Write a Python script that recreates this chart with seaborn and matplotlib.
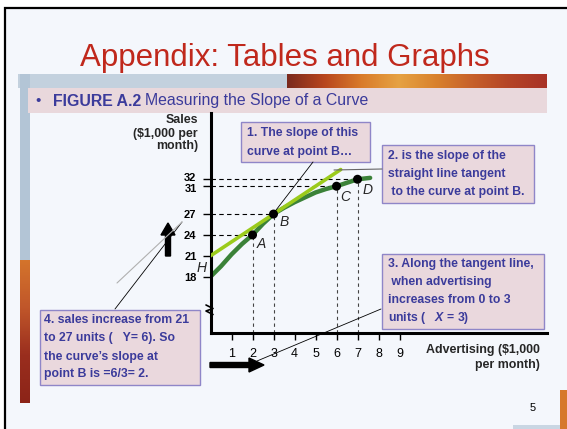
import matplotlib
matplotlib.use("Agg")
import matplotlib.pyplot as plt
import matplotlib.transforms as mtransforms
import seaborn as sns
import numpy as np
from matplotlib.patches import Rectangle, FancyArrow
from matplotlib.colors import LinearSegmentedColormap

# values
advertising = [0, 0.5, 1, 1.5, 2, 2.5, 3, 3.5, 4, 4.5, 5, 5.5, 6, 6.5, 7, 7.6]
sales = [18, 19.5, 21.2, 22.7, 24, 25.6, 27, 27.9, 28.7, 29.4, 30.1, 30.6, 31, 31.5, 32, 32.2]

tangent_x = [0, 6.2]
tangent_y = [21, 33.4]

point_names = ["A", "B", "C", "D"]
point_x = [2, 3, 6, 7]
point_y = [24, 27, 31, 32]

y_ticks = [18, 21, 24, 27, 31, 32]
x_ticks = [1, 2, 3, 4, 5, 6, 7, 8, 9]

title = "Appendix: Tables and Graphs"
caption_bold = "FIGURE A.2"
caption_rest = "Measuring the Slope of a Curve"
y_label = ["Sales", "($1,000 per", "month)"]
x_label = ["Advertising ($1,000", "per month)"]

box1_lines = ["1. The slope of this", "curve at point B\u2026"]
box2_lines = ["2. is the slope of the", "straight line tangent", " to the curve at point B."]
box3_lines = ["3. Along the tangent line,", " when advertising", "increases from 0 to 3", "units (   $X$ = 3)"]
box4_lines = ["4. sales increase from 21", "to 27 units (   Y= 6). So",
              "the curve\u2019s slope at", "point B is =6/3= 2."]

W, H = 567, 429
BLUE = "#3b3b9b"
PINK = "#ead8dd"

sns.set_theme(style="white")
plt.rcParams["font.family"] = ["Liberation Sans", "DejaVu Sans"]
plt.rcParams["mathtext.fontset"] = "custom"
plt.rcParams["mathtext.it"] = "Liberation Sans:italic:bold"
plt.rcParams["mathtext.rm"] = "Liberation Sans:bold"

fig = plt.figure(figsize=(W / 100, H / 100), dpi=100)
fig.patch.set_facecolor("white")

# ---- slide background (pixel coordinates)
bg = fig.add_axes([0, 0, 1, 1], zorder=0)
bg.set_xlim(0, W)
bg.set_ylim(H, 0)
bg.axis("off")
bg.add_patch(Rectangle((5, 8), W - 5, H - 8, facecolor="#f4f7fc", edgecolor="none"))
bg.plot([5, 5, W], [H, 8, 8], color="black", lw=1.6, solid_joinstyle="miter")

# header texture band
bg.add_patch(Rectangle((18, 74), 270, 14, facecolor="#c3d1de", edgecolor="none"))
warm = LinearSegmentedColormap.from_list(
    "warm", ["#7a2a1e", "#b8461e", "#d97b2a", "#e6a243", "#d9822d", "#c6602a", "#b44426", "#a83226"])
bg.imshow(np.linspace(0, 1, 256)[None, :], cmap=warm, aspect="auto",
          extent=(287, 547, 88, 74), zorder=1)
# left strip
bg.add_patch(Rectangle((20, 74), 10, 186, facecolor="#b3c5d6", edgecolor="none"))
strip = LinearSegmentedColormap.from_list("strip", ["#d4742c", "#c0562a", "#9a2e1e", "#8c2418"])
bg.imshow(np.linspace(0, 1, 128)[:, None], cmap=strip, aspect="auto",
          extent=(20, 30, 403, 260), zorder=1)
# caption band
bg.add_patch(Rectangle((28, 88), 519, 25, facecolor="#e9d8dc", edgecolor="none", zorder=2))
# bottom right decoration
bg.add_patch(Rectangle((513, 425), 54, 4, facecolor="#c9d6e3", edgecolor="none"))
bg.add_patch(Rectangle((560, 390), 7, 39, facecolor="#d6782c", edgecolor="none"))

bg.text(285, 66, title, color="#c0281c", fontsize=22.5, ha="center", va="baseline")
bg.text(38, 101, "\u2022", color=BLUE, fontsize=11, ha="center", va="center")
cb = bg.text(53, 101, caption_bold, color=BLUE, fontsize=11.4, fontweight="bold", va="center")
fig.canvas.draw()
bb = cb.get_window_extent().transformed(bg.transData.inverted())
bg.text(bb.x1 + 4, 101, caption_rest, color=BLUE, fontsize=11.4, va="center")
bg.text(533, 408, "5", fontsize=8, ha="center", va="center", color="black")

# ---- the chart
ax = fig.add_axes([210.5 / W, 1 - 333 / H, (547 - 210.5) / W, (333 - 113) / H], zorder=1)
ax.patch.set_alpha(0)
ax.set_xlim(0, 16.02)
ax.set_ylim(9.91, 41.52)
y_bottom = 9.91

for x, y in zip(point_x, point_y):
    ax.plot([0, x], [y, y], color="black", lw=0.8, ls=(0, (4, 3)), zorder=1)
    ax.plot([x, x], [y_bottom, y], color="#444444", lw=0.8, ls=(0, (3, 3)), zorder=1)

sns.lineplot(x=advertising, y=sales, color="#3b8238", lw=3.2, sort=False, ax=ax, zorder=2)
sns.lineplot(x=tangent_x, y=tangent_y, color="#9bcb1c", lw=2.6, sort=False, ax=ax, zorder=3)
sns.scatterplot(x=point_x, y=point_y, color="black", s=42, edgecolor="none", ax=ax, zorder=4)

label_offsets = [(6.5, -6.5), (7.5, -5.5), (6, -7.5), (7.5, -7.5)]
for name, x, y, off in zip(point_names, point_x, point_y, label_offsets):
    ax.annotate(name, (x, y), xytext=off, textcoords="offset points", fontsize=10,
                fontstyle="italic", ha="center", va="center")
ax.annotate("H", (advertising[0], sales[0]), xytext=(-6.5, 6), textcoords="offset points",
            fontsize=10, fontstyle="italic", ha="center", va="center", annotation_clip=False)

for side in ["top", "right"]:
    ax.spines[side].set_visible(False)
for side in ["left", "bottom"]:
    ax.spines[side].set_linewidth(2.2)
    ax.spines[side].set_color("black")
    ax.spines[side].set_capstyle("projecting")

ax.set_yticks(y_ticks)
ax.set_yticklabels([str(v) for v in y_ticks], fontweight="bold")
ax.set_xticks(x_ticks)
ax.set_xticklabels([str(v) for v in x_ticks])
ax.tick_params(axis="y", direction="out", length=6, width=1, pad=4, labelsize=8,
               left=True, colors="black")
ax.tick_params(axis="x", direction="out", length=5, width=1, pad=6, labelsize=9,
               bottom=True, colors="black")
ax.yaxis.get_major_ticks()[1].tick1line.set_color("#9a9a9a")
# 31 and 32 sit very close: nudge their labels apart a little
ylabels = ax.get_yticklabels()
ylabels[4].set_transform(ylabels[4].get_transform() + mtransforms.ScaledTranslation(0, -1.5 / 72, fig.dpi_scale_trans))
ylabels[5].set_transform(ylabels[5].get_transform() + mtransforms.ScaledTranslation(0, 1.5 / 72, fig.dpi_scale_trans))
ax.grid(False)

# ---- overlay: boxes, leader lines, arrows
fg = fig.add_axes([0, 0, 1, 1], zorder=2)
fg.set_xlim(0, W)
fg.set_ylim(H, 0)
fg.axis("off")

for line, y in zip(y_label, [120, 133.5, 146.5]):
    fg.text(198, y, line, fontsize=8.9, fontweight="bold", ha="right", va="center")
for line, y in zip(x_label, [350, 365]):
    fg.text(540, y, line, fontsize=8.9, fontweight="bold", ha="right", va="center")

boxes = [
    ((241, 122, 370, 162), 247, [132.7, 151.7], box1_lines),
    ((381.5, 145, 533.5, 202.5), 387.5, [155.7, 173.5, 192.3], box2_lines),
    ((381.5, 253.5, 543.5, 328.5), 387.5, [264, 282, 300, 318], box3_lines),
    ((39.5, 309.5, 199.5, 385), 44.5, [320, 338.3, 356.7, 374.5], box4_lines),
]
for (x0, y0, x1, y1), tx, ys, lines in boxes:
    fg.add_patch(Rectangle((x0, y0), x1 - x0, y1 - y0, facecolor=PINK,
                           edgecolor="#8f86c8", lw=1))
    for line, y in zip(lines, ys):
        fg.text(tx, y, line, color=BLUE, fontsize=8.8, fontweight="bold", va="center")

fg.plot([273, 313], [214, 162], color="black", lw=0.6)
fg.plot([334, 382], [170, 169], color="#666666", lw=0.8)
fg.plot([381, 257], [309, 361], color="black", lw=0.6)
fg.plot([115, 182], [309, 222], color="black", lw=0.6)
fg.plot([117, 182], [283, 222], color="#b0b0b0", lw=0.8)

fg.add_patch(FancyArrow(168, 256, 0, -33, width=5, head_width=14, head_length=12,
                        length_includes_head=True, color="black"))
fg.add_patch(FancyArrow(210, 365, 54, 0, width=5, head_width=14, head_length=15,
                        length_includes_head=True, color="black"))

# axis break mark
fg.plot([206, 213, 206, 213], [305, 308.5, 311, 314.5], color="black", lw=1.2)

fig.savefig("out.png", dpi=100)
